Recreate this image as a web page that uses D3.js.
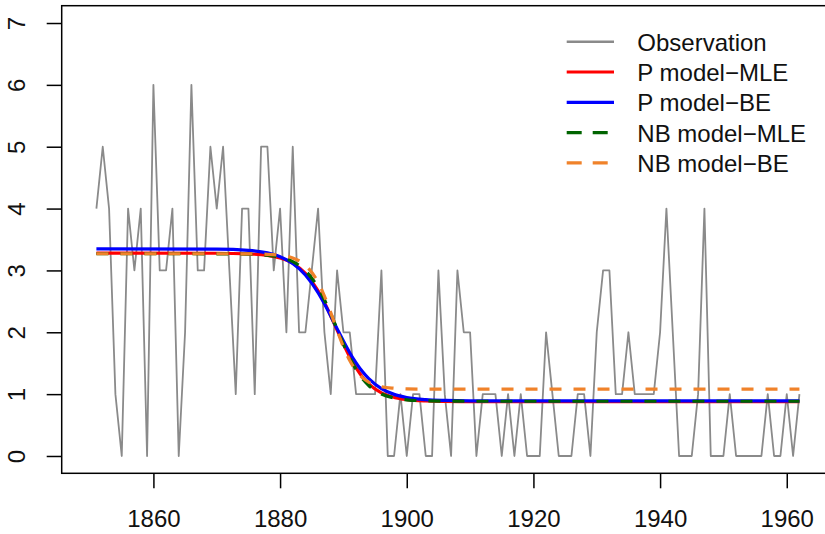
<!DOCTYPE html>
<html>
<head>
<meta charset="utf-8">
<script src="https://cdn.jsdelivr.net/npm/d3@7"></script>
<style>
  html, body { margin: 0; padding: 0; background: #fff; }
  svg { display: block; }
  text { font-family: "Liberation Sans", Arial, Helvetica, sans-serif; }
</style>
</head>
<body>
<svg id="chart" width="825" height="534"></svg>
<script>
// ---- data ----
const obsYears = d3.range(1851, 1963);
const observation = [
  4,5,4,1,0,4,3,4,0,6,
  3,3,4,0,2,6,3,3,5,4,
  5,3,1,4,4,1,5,5,3,4,
  2,5,2,2,3,4,2,1,3,2,
  2,1,1,1,1,3,0,0,1,0,
  1,1,0,0,3,1,0,3,2,2,
  0,1,1,1,0,1,0,1,0,0,
  0,2,1,0,0,0,1,1,0,2,
  3,3,1,1,2,1,1,1,1,2,
  4,2,0,0,0,1,4,0,0,0,
  1,0,0,0,0,0,1,0,0,1,
  0,1
];
const curveYears = [1851,1870,1875,1878,1880,1882,1884,1886,1887,1888,1889,1890,1891,1892,1893,1894,1896,1898,1900,1903,1906,1910,1962];
const pMLE  = [3.28,3.278,3.268,3.243,3.20,3.116,2.953,2.67,2.48,2.263,2.034,1.808,1.60,1.423,1.278,1.166,1.02,0.948,0.912,0.89,0.883,0.88,0.88];
const pBE   = [3.35,3.345,3.325,3.283,3.222,3.112,2.925,2.639,2.46,2.263,2.059,1.858,1.67,1.505,1.364,1.249,1.088,0.996,0.946,0.911,0.898,0.892,0.89];
const nbMLE = [3.27,3.269,3.263,3.245,3.213,3.143,2.996,2.721,2.525,2.299,2.052,1.809,1.587,1.399,1.251,1.14,1.0025,0.938,0.908,0.892,0.887,0.885,0.885];
const nbBE  = [3.27,3.27,3.268,3.261,3.245,3.201,3.083,2.807,2.586,2.318,2.032,1.764,1.543,1.38,1.267,1.195,1.121,1.095,1.085,1.081,1.08,1.08,1.08];
const xTicks = [1860,1880,1900,1920,1940,1960];
const yTicks = [0,1,2,3,4,5,6,7];
const legendLabels = ["Observation","P model\u2212MLE","P model\u2212BE","NB model\u2212MLE","NB model\u2212BE"];

// ---- chart ----
const svg = d3.select("#chart");
const padL = 61.7, padR = 827.8, padT = 5.7, padB = 473.3;
const x = d3.scaleLinear().domain([1845.52, 1966.48]).range([padL, padR]);
const y = d3.scaleLinear().domain([-0.28, 7.28]).range([padB, padT]);

const FS = "24px";

// box
svg.append("rect")
  .attr("x", padL).attr("y", padT)
  .attr("width", padR - padL).attr("height", padB - padT)
  .attr("fill", "none").attr("stroke", "#000").attr("stroke-width", 1.5);

// x axis
const xAxis = svg.append("g").attr("transform", `translate(0,${padB})`)
  .call(d3.axisBottom(x).tickValues(xTicks).tickFormat(d3.format("d")).tickSize(15));
xAxis.select(".domain").remove();
xAxis.selectAll("line").attr("stroke", "#000").attr("stroke-width", 1.5);
xAxis.selectAll("text")
  .attr("y", 54).attr("dy", null)
  .attr("font-size", FS).attr("fill", "#111")
  .attr("font-family", '"Liberation Sans", Arial, sans-serif');

// y axis
const yAxis = svg.append("g").attr("transform", `translate(${padL},0)`)
  .call(d3.axisLeft(y).tickValues(yTicks).tickSize(15).tickFormat(d3.format("d")));
yAxis.select(".domain").remove();
yAxis.selectAll("line").attr("stroke", "#000").attr("stroke-width", 1.5);
yAxis.selectAll("text").remove();
yAxis.selectAll(".tick").append("text")
  .attr("transform", `translate(${25 - padL},0) rotate(-90)`)
  .attr("text-anchor", "middle")
  .attr("font-size", FS).attr("fill", "#111")
  .attr("font-family", '"Liberation Sans", Arial, sans-serif')
  .text(d => d);

// observation
const obsData = obsYears.map((yr, i) => [yr, observation[i]]);
svg.append("path")
  .datum(obsData)
  .attr("fill", "none").attr("stroke", "#8a8a8a").attr("stroke-width", 1.8)
  .attr("stroke-linejoin", "round")
  .attr("d", d3.line().x(d => x(d[0])).y(d => y(d[1])));

const series = [
  {vals: pMLE,  color: "#ff0000", dash: null},
  {vals: pBE,   color: "#0000ff", dash: null},
  {vals: nbMLE, color: "#006400", dash: "12,12"},
  {vals: nbBE,  color: "#f0822a", dash: "12,12"}
];
const line = d3.line().x(d => x(d[0])).y(d => y(d[1])).curve(d3.curveMonotoneX);
series.forEach(s => {
  svg.append("path")
    .datum(curveYears.map((yr, i) => [yr, s.vals[i]]))
    .attr("fill", "none").attr("stroke", s.color).attr("stroke-width", 3.2)
    .attr("stroke-dasharray", s.dash)
    .attr("d", line);
});

// legend
const legColors = ["#8a8a8a", "#ff0000", "#0000ff", "#006400", "#f0822a"];
const legDash = [null, null, null, "15,11", "15,11"];
const legW = [2.6, 3.2, 3.2, 3.2, 3.2];
const lg = svg.append("g");
legendLabels.forEach((lab, i) => {
  const cy = 41.7 + i * 30.3;
  lg.append("line")
    .attr("x1", 566.7).attr("x2", 614).attr("y1", cy).attr("y2", cy)
    .attr("stroke", legColors[i]).attr("stroke-width", legW[i])
    .attr("stroke-dasharray", legDash[i]);
  lg.append("text")
    .attr("x", 637.3).attr("y", cy + 9)
    .attr("font-size", FS).attr("fill", "#111")
    .text(lab);
});
</script>
</body>
</html>
